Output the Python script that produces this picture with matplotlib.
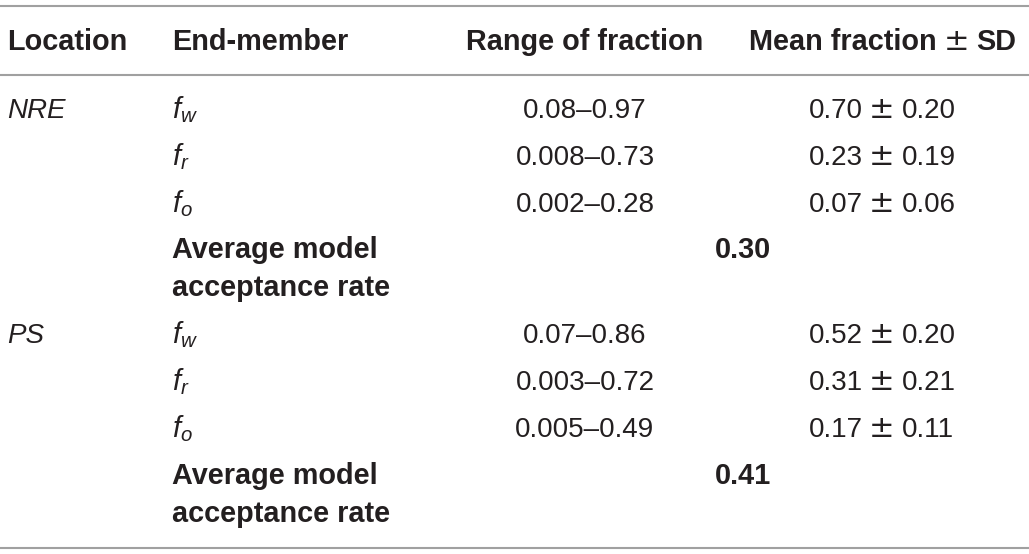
import matplotlib
matplotlib.use("Agg")
import matplotlib.pyplot as plt

plt.rcParams['font.family'] = ['Liberation Sans', 'DejaVu Sans']
plt.rcParams['mathtext.fontset'] = 'custom'
plt.rcParams['mathtext.it'] = 'Liberation Sans:italic'
plt.rcParams['mathtext.rm'] = 'Liberation Sans'

headers = ["Location", "End-member", "Range of fraction", "Mean fraction \u00b1 SD"]
locations = ["NRE", "PS"]
end_members = ["$f_w$", "$f_r$", "$f_o$"]
ranges_nre = ["0.08\u20130.97", "0.008\u20130.73", "0.002\u20130.28"]
means_nre = ["0.70 \u00b1 0.20", "0.23 \u00b1 0.19", "0.07 \u00b1 0.06"]
ranges_ps = ["0.07\u20130.86", "0.003\u20130.72", "0.005\u20130.49"]
means_ps = ["0.52 \u00b1 0.20", "0.31 \u00b1 0.21", "0.17 \u00b1 0.11"]
acceptance = ["0.30", "0.41"]
acc_label = "Average model\nacceptance rate"

W, H = 1029, 554
fig = plt.figure(figsize=(W / 100, H / 100), dpi=100)
ax = fig.add_axes([0, 0, 1, 1])
ax.set_xlim(0, W)
ax.set_ylim(H, 0)
ax.axis('off')

line_color = '#a0a0a0'
for y in (6, 75, 548):
    ax.plot([0, W], [y, y], color=line_color, lw=1.5, solid_capstyle='butt')

txt = '#231f20'
RS = 20.0    # regular size
BS = 20.8    # bold size
PM = dict(family='DejaVu Sans', color=txt, va='baseline', ha='center')

hx = [7, 172, 466]
for x, h in zip(hx, headers[:3]):
    ax.text(x, 50, h, fontsize=BS, fontweight='bold', color=txt, ha='left', va='baseline')
h_left, h_right = headers[3].split(" \u00b1 ")
ax.text(749, 50, h_left, fontsize=BS, fontweight='bold', color=txt, ha='left', va='baseline')
ax.text(956.5, 50, "\u00b1", fontsize=22, **PM)
ax.text(976, 50, h_right, fontsize=BS, fontweight='bold', color=txt, ha='left', va='baseline')

blocks = [
    (locations[0], ranges_nre, means_nre, acceptance[0], [118, 165, 212], 258, 296),
    (locations[1], ranges_ps, means_ps, acceptance[1], [343, 390, 437], 484, 522),
]
for loc, rng, mn, acc, ys, ya, yb in blocks:
    ax.text(7, ys[0], loc, fontsize=RS, style='italic', color=txt, ha='left', va='baseline')
    for em, r, m, y in zip(end_members, rng, mn, ys):
        ax.text(172, y, em, fontsize=RS + 1, color=txt, ha='left', va='baseline')
        ax.text(585, y, r, fontsize=RS, color=txt, ha='center', va='baseline')
        a, b = m.split(" \u00b1 ")
        ax.text(863, y, a, fontsize=RS, color=txt, ha='right', va='baseline')
        ax.text(881.5, y, "\u00b1", fontsize=22, **PM)
        ax.text(902, y, b, fontsize=RS, color=txt, ha='left', va='baseline')
    l1, l2 = acc_label.split("\n")
    ax.text(172, ya, l1, fontsize=BS, fontweight='bold', color=txt, ha='left', va='baseline')
    ax.text(172, yb, l2, fontsize=BS, fontweight='bold', color=txt, ha='left', va='baseline')
    ax.text(743, ya, acc, fontsize=BS, fontweight='bold', color=txt, ha='center', va='baseline')

fig.savefig("out.png", dpi=100, facecolor='white')
